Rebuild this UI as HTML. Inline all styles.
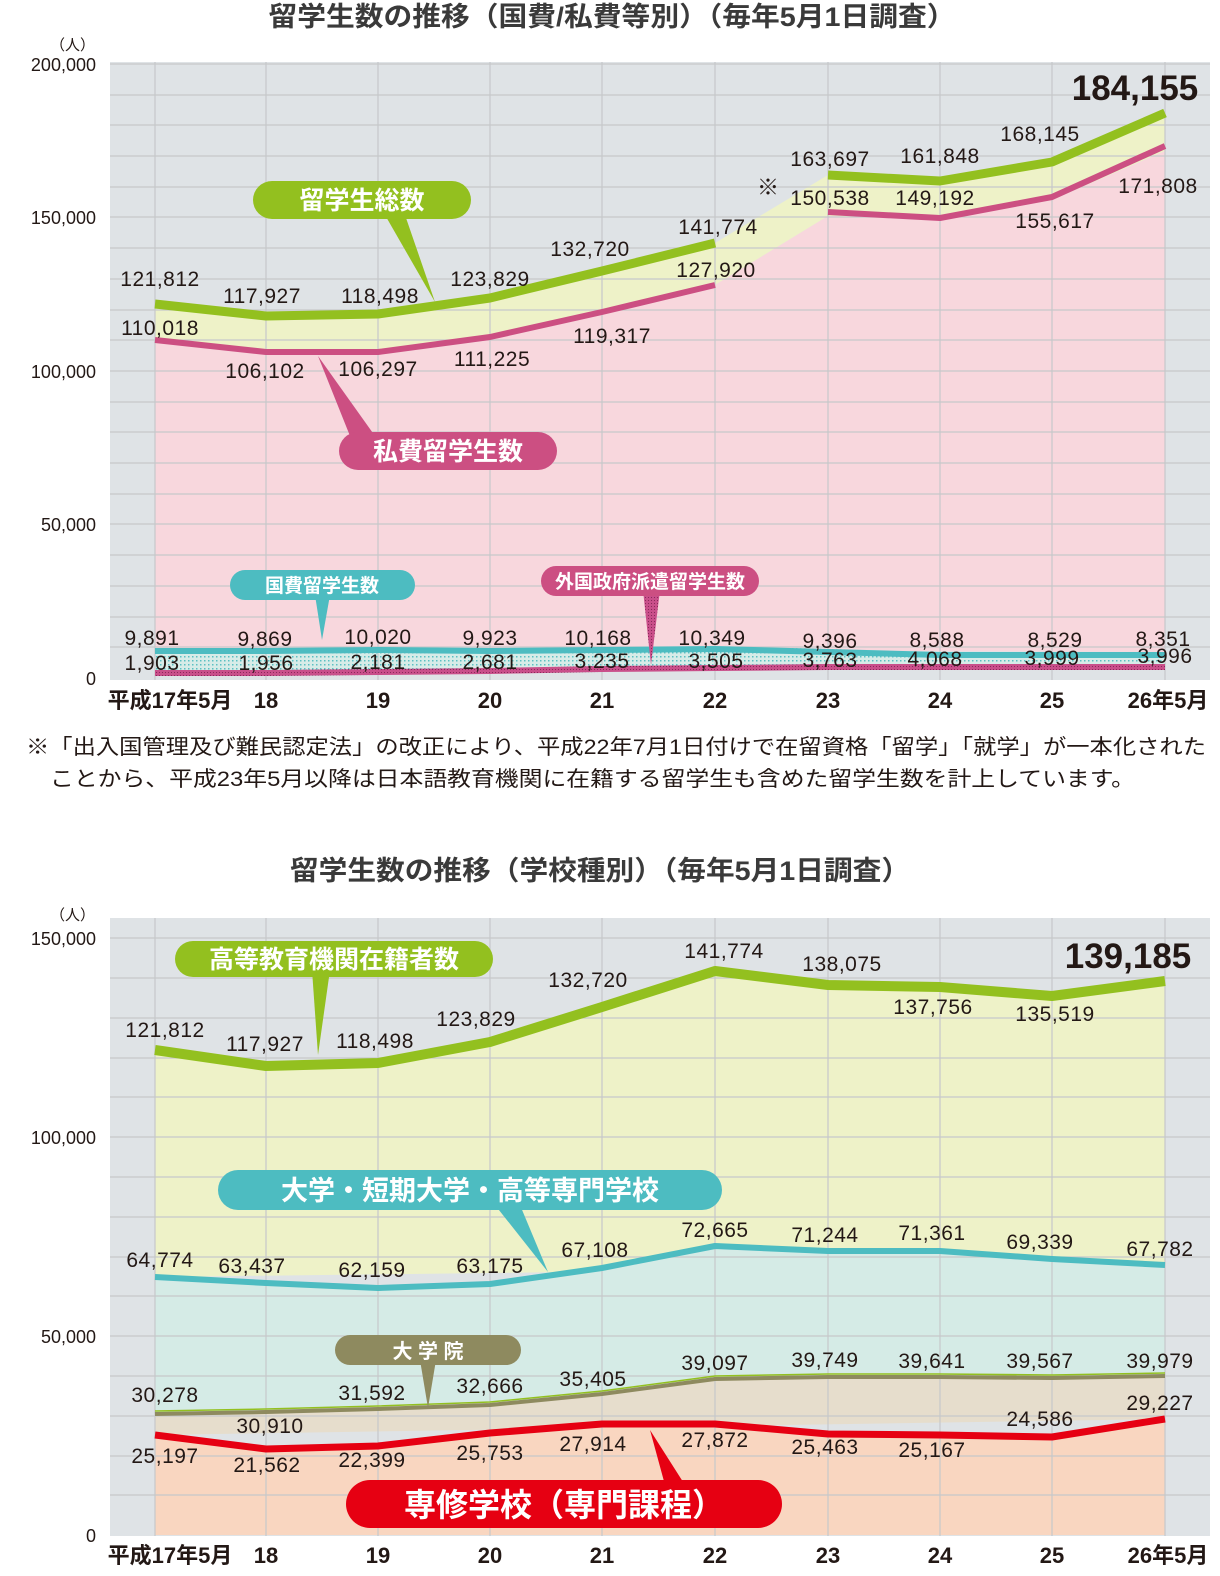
<!DOCTYPE html>
<html><head><meta charset="utf-8"><style>
body{margin:0;background:#fff}
svg{display:block}
text{font-family:"Liberation Sans","Noto Sans CJK JP",sans-serif}
.v{font-size:21px;fill:#231815;text-anchor:middle;letter-spacing:0.5px}
.ax{font-size:18px;fill:#231815;text-anchor:end}
.xl{font-size:22px;fill:#231815;text-anchor:middle;font-weight:bold}
.t{font-size:27px;font-weight:bold;fill:#3a3a3a;text-anchor:middle}
.c{fill:#fff;font-weight:bold;text-anchor:middle}
</style></head><body>
<svg width="1220" height="1576" viewBox="0 0 1220 1576">
<defs>
<pattern id="dt" width="4" height="4" patternUnits="userSpaceOnUse"><rect width="4" height="4" fill="#d7ece8"/><rect width="1.5" height="1.5" fill="#5bbfc2"/></pattern>
<pattern id="dm" width="3" height="3" patternUnits="userSpaceOnUse"><rect width="3" height="3" fill="#c94f8a"/><rect width="1" height="1" fill="#8a2a5a"/></pattern>
</defs>
<text class="t" x="612" y="26" textLength="687" lengthAdjust="spacingAndGlyphs">留学生数の推移（国費/私費等別）（毎年5月1日調査）</text>
<rect x="110" y="62" width="1100" height="618" fill="#dfe3e6"/>
<polygon fill="#eef2c8" points="155,304 266,316 378,314 490,298 602,271 715,243 828,175 940,181 1052,162 1165,113 1165,151 1052,200 940,220 828,216 715,285 602,312 490,337 378,352 266,352 155,340"/>
<polygon fill="#f8d7dd" points="155,340 266,352 378,352 490,337 602,312 715,285 828,216 940,220 1052,200 1165,151 1165,652 155,648"/>
<polygon fill="url(#dt)" points="155,648 266,648 378,647 490,648 602,647 715,646 828,649 940,652 1052,652 1165,652 1165,666 1052,666 940,666 828,666 715,667 602,668 490,670 378,671 266,672 155,672"/>
<g stroke="#c6c8ca" stroke-width="1.2">
<line x1="110" y1="95" x2="1210" y2="95"/><line x1="110" y1="125" x2="1210" y2="125"/><line x1="110" y1="156" x2="1210" y2="156"/><line x1="110" y1="187" x2="1210" y2="187"/><line x1="110" y1="217" x2="1210" y2="217"/><line x1="110" y1="248" x2="1210" y2="248"/><line x1="110" y1="279" x2="1210" y2="279"/><line x1="110" y1="310" x2="1210" y2="310"/><line x1="110" y1="340" x2="1210" y2="340"/><line x1="110" y1="371" x2="1210" y2="371"/><line x1="110" y1="402" x2="1210" y2="402"/><line x1="110" y1="432" x2="1210" y2="432"/><line x1="110" y1="463" x2="1210" y2="463"/><line x1="110" y1="494" x2="1210" y2="494"/><line x1="110" y1="524" x2="1210" y2="524"/><line x1="110" y1="555" x2="1210" y2="555"/><line x1="110" y1="586" x2="1210" y2="586"/><line x1="110" y1="617" x2="1210" y2="617"/><line x1="110" y1="647" x2="1210" y2="647"/><line x1="110" y1="64" x2="1210" y2="64"/>
<line x1="155" y1="62" x2="155" y2="680"/><line x1="266" y1="62" x2="266" y2="680"/><line x1="378" y1="62" x2="378" y2="680"/><line x1="490" y1="62" x2="490" y2="680"/><line x1="602" y1="62" x2="602" y2="680"/><line x1="715" y1="62" x2="715" y2="680"/><line x1="828" y1="62" x2="828" y2="680"/><line x1="940" y1="62" x2="940" y2="680"/><line x1="1052" y1="62" x2="1052" y2="680"/><line x1="1165" y1="62" x2="1165" y2="680"/>
</g>
<g fill="none" stroke-linejoin="round">
<polyline stroke="#93c01f" stroke-width="9" points="155,304 266,316 378,314 490,298 602,271 715,243"/>
<polyline stroke="#93c01f" stroke-width="9" points="828,175 940,181 1052,162 1165,113"/>
<polyline stroke="#cc4f82" stroke-width="6" points="155,340 266,352 378,352 490,337 602,312 715,285"/>
<polyline stroke="#cc4f82" stroke-width="6" points="828,212 940,218 1052,197 1165,146"/>
<polyline stroke="#4dbcc1" stroke-width="6" points="155,651 266,651 378,650 490,651 602,650 715,649 828,652 940,655 1052,655 1165,655"/>
<polyline stroke="url(#dm)" stroke-width="6" points="155,673 266,673 378,672 490,671 602,669 715,668 828,667 940,667 1052,667 1165,667"/>
</g>
<text x="95" y="50" style="font-size:15px" fill="#231815" text-anchor="end">（人）</text>
<text class="ax" x="96" y="71">200,000</text><text class="ax" x="96" y="224">150,000</text><text class="ax" x="96" y="378">100,000</text><text class="ax" x="96" y="531">50,000</text><text class="ax" x="96" y="685">0</text>
<g class="xl"><text x="170" y="708">平成17年5月</text><text x="266" y="708">18</text><text x="378" y="708">19</text><text x="490" y="708">20</text><text x="602" y="708">21</text><text x="715" y="708">22</text><text x="828" y="708">23</text><text x="940" y="708">24</text><text x="1052" y="708">25</text><text x="1168" y="708">26年5月</text></g>
<g class="v">
<text x="160" y="286">121,812</text><text x="262" y="303">117,927</text><text x="380" y="303">118,498</text><text x="490" y="286">123,829</text><text x="590" y="256">132,720</text><text x="718" y="234">141,774</text><text x="830" y="166">163,697</text><text x="940" y="163">161,848</text><text x="1040" y="141">168,145</text>
<text x="160" y="335">110,018</text><text x="265" y="378">106,102</text><text x="378" y="376">106,297</text><text x="492" y="366">111,225</text><text x="612" y="343">119,317</text><text x="716" y="277">127,920</text><text x="830" y="205">150,538</text><text x="935" y="205">149,192</text><text x="1055" y="228">155,617</text><text x="1158" y="193">171,808</text>
<text x="152" y="645">9,891</text><text x="265" y="646">9,869</text><text x="378" y="644">10,020</text><text x="490" y="645">9,923</text><text x="598" y="645">10,168</text><text x="712" y="645">10,349</text><text x="830" y="648">9,396</text><text x="937" y="647">8,588</text><text x="1055" y="647">8,529</text><text x="1163" y="646">8,351</text>
<text x="152" y="670">1,903</text><text x="266" y="670">1,956</text><text x="378" y="669">2,181</text><text x="490" y="669">2,681</text><text x="602" y="668">3,235</text><text x="716" y="668">3,505</text><text x="830" y="667">3,763</text><text x="935" y="666">4,068</text><text x="1052" y="665">3,999</text><text x="1165" y="663">3,996</text>
</g>
<text x="768" y="195" style="font-size:22px" fill="#231815" text-anchor="middle">※</text>
<text x="1135" y="100" style="font-size:35px;font-weight:bold" fill="#231815" text-anchor="middle">184,155</text>
<polygon points="385,215 405,215 435,302" fill="#93c01f"/>
<rect x="253" y="181" width="218" height="38" rx="19" fill="#93c01f"/><text class="c" x="362" y="209" style="font-size:25px">留学生総数</text>
<polygon points="318,356 350,436 375,436" fill="#cc4f82"/>
<rect x="339" y="432" width="218" height="38" rx="19" fill="#cc4f82"/><text class="c" x="448" y="460" style="font-size:25px">私費留学生数</text>
<polygon points="315,595 330,595 322,640" fill="#4dbcc1"/>
<rect x="230" y="570" width="185" height="30" rx="15" fill="#4dbcc1"/><text class="c" x="322" y="592" style="font-size:19px">国費留学生数</text>
<polygon points="643,590 660,590 651,665" fill="url(#dm)"/>
<rect x="541" y="566" width="218" height="30" rx="15" fill="#cc4f82"/><text class="c" x="650" y="588" style="font-size:19px">外国政府派遣留学生数</text>
<text x="26" y="754" style="font-size:21px" fill="#231815" textLength="1180" lengthAdjust="spacingAndGlyphs">※「出入国管理及び難民認定法」の改正により、平成22年7月1日付けで在留資格「留学」「就学」が一本化された</text>
<text x="50" y="786" style="font-size:21px" fill="#231815" textLength="1085" lengthAdjust="spacingAndGlyphs">ことから、平成23年5月以降は日本語教育機関に在籍する留学生も含めた留学生数を計上しています。</text>

<text class="t" x="600" y="880" textLength="620" lengthAdjust="spacingAndGlyphs">留学生数の推移（学校種別）（毎年5月1日調査）</text>
<rect x="110" y="918" width="1100" height="618" fill="#dfe3e6"/>
<polygon fill="#eef2c8" points="155,1050 266,1066 378,1063 490,1042 602,1007 715,971 828,985 940,987 1052,996 1165,981 1165,1265 155,1277"/>
<polygon fill="#d5ebe6" points="155,1277 266,1283 378,1288 490,1284 602,1268 715,1246 828,1251 940,1251 1052,1259 1165,1265 1165,1376 155,1414"/>
<polygon fill="#e6ddcc" points="155,1414 266,1412 378,1409 490,1405 602,1394 715,1379 828,1377 940,1377 1052,1378 1165,1376 1165,1419 155,1435"/>
<polygon fill="#f9d6c0" points="155,1435 266,1449 378,1446 490,1433 602,1424 715,1424 828,1434 940,1435 1052,1437 1165,1419 1165,1535 155,1535"/>
<g stroke="#c6c8ca" stroke-width="1.2">
<line x1="110" y1="938" x2="1210" y2="938"/><line x1="110" y1="978" x2="1210" y2="978"/><line x1="110" y1="1018" x2="1210" y2="1018"/><line x1="110" y1="1058" x2="1210" y2="1058"/><line x1="110" y1="1097" x2="1210" y2="1097"/><line x1="110" y1="1137" x2="1210" y2="1137"/><line x1="110" y1="1177" x2="1210" y2="1177"/><line x1="110" y1="1217" x2="1210" y2="1217"/><line x1="110" y1="1257" x2="1210" y2="1257"/><line x1="110" y1="1296" x2="1210" y2="1296"/><line x1="110" y1="1336" x2="1210" y2="1336"/><line x1="110" y1="1376" x2="1210" y2="1376"/><line x1="110" y1="1416" x2="1210" y2="1416"/><line x1="110" y1="1456" x2="1210" y2="1456"/><line x1="110" y1="1495" x2="1210" y2="1495"/>
<line x1="155" y1="918" x2="155" y2="1536"/><line x1="266" y1="918" x2="266" y2="1536"/><line x1="378" y1="918" x2="378" y2="1536"/><line x1="490" y1="918" x2="490" y2="1536"/><line x1="602" y1="918" x2="602" y2="1536"/><line x1="715" y1="918" x2="715" y2="1536"/><line x1="828" y1="918" x2="828" y2="1536"/><line x1="940" y1="918" x2="940" y2="1536"/><line x1="1052" y1="918" x2="1052" y2="1536"/><line x1="1165" y1="918" x2="1165" y2="1536"/>
</g>
<g fill="none" stroke-linejoin="round">
<polyline stroke="#93c01f" stroke-width="10" points="155,1050 266,1066 378,1063 490,1042 602,1007 715,971 828,985 940,987 1052,996 1165,981"/>
<polyline stroke="#4dbcc1" stroke-width="6" points="155,1277 266,1283 378,1288 490,1284 602,1268 715,1246 828,1251 940,1251 1052,1259 1165,1265"/>
<polyline stroke="#8e8a5f" stroke-width="4" points="155,1414 266,1412 378,1409 490,1405 602,1394 715,1379 828,1377 940,1377 1052,1378 1165,1376"/>
<polyline stroke="#93c01f" stroke-width="1.5" points="155,1411 266,1409 378,1406 490,1402 602,1391 715,1376 828,1374 940,1374 1052,1375 1165,1373"/>
<polyline stroke="#e60012" stroke-width="7" points="155,1435 266,1449 378,1446 490,1433 602,1424 715,1424 828,1434 940,1435 1052,1437 1165,1419"/>
</g>
<text x="95" y="920" style="font-size:15px" fill="#231815" text-anchor="end">（人）</text>
<text class="ax" x="96" y="945">150,000</text><text class="ax" x="96" y="1144">100,000</text><text class="ax" x="96" y="1343">50,000</text><text class="ax" x="96" y="1542">0</text>
<g class="xl"><text x="170" y="1563">平成17年5月</text><text x="266" y="1563">18</text><text x="378" y="1563">19</text><text x="490" y="1563">20</text><text x="602" y="1563">21</text><text x="715" y="1563">22</text><text x="828" y="1563">23</text><text x="940" y="1563">24</text><text x="1052" y="1563">25</text><text x="1168" y="1563">26年5月</text></g>
<g class="v">
<text x="165" y="1037">121,812</text><text x="265" y="1051">117,927</text><text x="375" y="1048">118,498</text><text x="476" y="1026">123,829</text><text x="588" y="987">132,720</text><text x="724" y="958">141,774</text><text x="842" y="971">138,075</text><text x="933" y="1014">137,756</text><text x="1055" y="1021">135,519</text>
<text x="160" y="1267">64,774</text><text x="252" y="1273">63,437</text><text x="372" y="1277">62,159</text><text x="490" y="1273">63,175</text><text x="595" y="1257">67,108</text><text x="715" y="1237">72,665</text><text x="825" y="1242">71,244</text><text x="932" y="1240">71,361</text><text x="1040" y="1249">69,339</text><text x="1160" y="1256">67,782</text>
<text x="165" y="1402">30,278</text><text x="270" y="1433">30,910</text><text x="372" y="1400">31,592</text><text x="490" y="1393">32,666</text><text x="593" y="1386">35,405</text><text x="715" y="1370">39,097</text><text x="825" y="1367">39,749</text><text x="932" y="1368">39,641</text><text x="1040" y="1368">39,567</text><text x="1160" y="1368">39,979</text>
<text x="165" y="1463">25,197</text><text x="267" y="1472">21,562</text><text x="372" y="1467">22,399</text><text x="490" y="1460">25,753</text><text x="593" y="1451">27,914</text><text x="715" y="1447">27,872</text><text x="825" y="1454">25,463</text><text x="932" y="1457">25,167</text><text x="1040" y="1426">24,586</text><text x="1160" y="1410">29,227</text>
</g>
<text x="1128" y="968" style="font-size:35px;font-weight:bold" fill="#231815" text-anchor="middle">139,185</text>
<polygon points="312,970 330,970 318,1055" fill="#93c01f"/>
<rect x="175" y="941" width="318" height="36" rx="18" fill="#93c01f"/><text class="c" x="334" y="968" style="font-size:25px">高等教育機関在籍者数</text>
<polygon points="495,1205 520,1205 548,1272" fill="#4dbcc1"/>
<rect x="218" y="1170" width="504" height="40" rx="20" fill="#4dbcc1"/><text class="c" x="470" y="1200" style="font-size:27px">大学・短期大学・高等専門学校</text>
<polygon points="420,1360 436,1360 428,1408" fill="#8e8a5f"/>
<rect x="335" y="1335" width="186" height="30" rx="15" fill="#8e8a5f"/><text class="c" x="428" y="1358" style="font-size:20px">大 学 院</text>
<polygon points="650,1430 665,1485 685,1485" fill="#e60012"/>
<rect x="346" y="1480" width="436" height="48" rx="24" fill="#e60012"/><text class="c" x="564" y="1516" style="font-size:32px">専修学校（専門課程）</text>
</svg>
</body></html>
